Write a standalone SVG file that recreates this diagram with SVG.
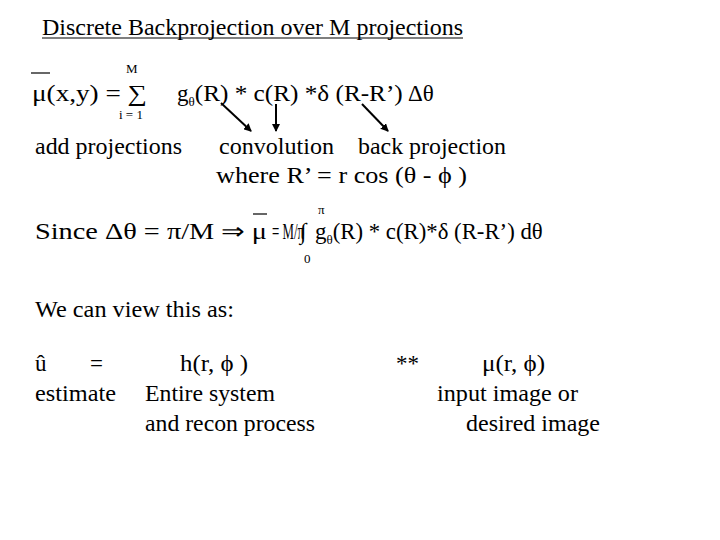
<svg xmlns="http://www.w3.org/2000/svg" width="720" height="540" viewBox="0 0 720 540">
<defs>
<style>
text{font-family:"Liberation Serif",serif;fill:#000}
.t{font-size:23px}
.s{font-size:13px}
.c line{stroke:#000;stroke-width:2}
</style>
<marker id="a" markerWidth="8" markerHeight="8" refX="7" refY="4" orient="auto" markerUnits="userSpaceOnUse"><path d="M0,0L8,4L0,8z"/></marker>
</defs>
<rect width="720" height="540" fill="#fff"/>
<g id="title"><text x="42" y="35" class="t" textLength="421" lengthAdjust="spacingAndGlyphs">Discrete Backprojection over M projections</text>
<line x1="42" y1="38" x2="463" y2="38" stroke="#000" stroke-width="1.2"/></g>
<g id="eq1">
<line x1="31" y1="73" x2="50" y2="73" stroke="#000" stroke-width="1.2"/>
<text x="32" y="101" class="t" textLength="115" lengthAdjust="spacingAndGlyphs">μ(x,y) = ∑</text>
<text x="126" y="73" class="s">M</text>
<text x="119" y="119" class="s">i = 1</text>
<text x="177" y="101" class="t">g<tspan font-size="13" dy="5">θ</tspan><tspan dy="-5" textLength="208" lengthAdjust="spacingAndGlyphs">(R) * c(R) *δ (R-R’)</tspan></text>
<text x="408" y="101" class="t">Δθ</text>
</g>
<g id="labels">
<text x="35" y="154" class="t" textLength="147" lengthAdjust="spacingAndGlyphs">add projections</text>
<text x="219" y="154" class="t" textLength="115" lengthAdjust="spacingAndGlyphs">convolution</text>
<text x="358" y="154" class="t" textLength="148" lengthAdjust="spacingAndGlyphs">back projection</text>
<text x="216" y="183" class="t" textLength="251" lengthAdjust="spacingAndGlyphs">where R’ = r cos (θ - ϕ )</text>
</g>
<g id="connectors" class="c">
<line x1="221" y1="103" x2="251" y2="131" marker-end="url(#a)"/>
<line x1="276" y1="104" x2="276" y2="131" marker-end="url(#a)"/>
<line x1="362" y1="104" x2="388" y2="131" marker-end="url(#a)"/>
</g>
<g id="eq2">
<text x="35" y="239" class="t" textLength="232" lengthAdjust="spacingAndGlyphs">Since Δθ = π/M ⇒ μ</text>
<text x="272" y="239" class="t" textLength="32" lengthAdjust="spacingAndGlyphs">= M/π</text>
<text x="300" y="239" class="t">∫</text>
<text x="315" y="239" class="t">g<tspan font-size="13" dy="5">θ</tspan><tspan dy="-5" textLength="210" lengthAdjust="spacingAndGlyphs">(R) * c(R)*δ (R-R’) dθ</tspan></text>
<line x1="253" y1="214" x2="267" y2="214" stroke="#000" stroke-width="1.2"/>
<text x="318" y="214" class="s">π</text>
<text x="304" y="263" class="s">0</text>
</g>
<g id="view">
<text x="35" y="317" class="t" textLength="199" lengthAdjust="spacingAndGlyphs">We can view this as:</text>
<text x="35" y="371" class="t">û</text>
<text x="90" y="371" class="t">=</text>
<text x="35" y="401" class="t" textLength="81" lengthAdjust="spacingAndGlyphs">estimate</text>
<text x="180" y="371" class="t" textLength="68" lengthAdjust="spacingAndGlyphs">h(r, ϕ )</text>
<text x="145" y="401" class="t" textLength="130" lengthAdjust="spacingAndGlyphs">Entire system</text>
<text x="145" y="431" class="t" textLength="170" lengthAdjust="spacingAndGlyphs">and recon process</text>
<text x="396" y="371" class="t">**</text>
<text x="482" y="371" class="t" textLength="63" lengthAdjust="spacingAndGlyphs">μ(r, ϕ)</text>
<text x="437" y="401" class="t" textLength="141" lengthAdjust="spacingAndGlyphs">input image or</text>
<text x="466" y="431" class="t" textLength="134" lengthAdjust="spacingAndGlyphs">desired image</text>
</g>
</svg>
